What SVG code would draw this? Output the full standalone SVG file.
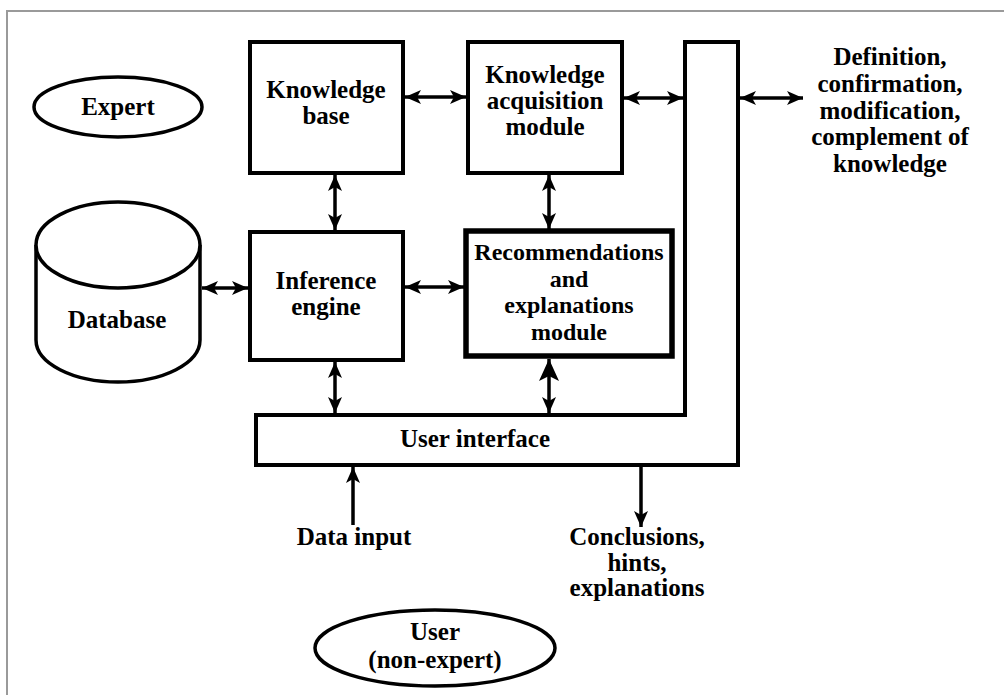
<svg xmlns="http://www.w3.org/2000/svg" width="1004" height="695" viewBox="0 0 1004 695">
<defs>
<style>
.frame{fill:none;stroke:#9a9a9a;stroke-width:2}
.box{fill:#fff;stroke:#000;stroke-width:4}
.thick{fill:#fff;stroke:#000;stroke-width:5.5}
.shape{fill:#fff;stroke:#000;stroke-width:3.5}
.lbl{font-family:"Liberation Serif","Times New Roman",serif;font-weight:bold;font-size:25px;text-anchor:middle;fill:#000}
.sm{font-size:24px}
.conn{stroke:#000;stroke-width:3.5;fill:none}
</style>
<marker id="ah" markerUnits="userSpaceOnUse" markerWidth="16" markerHeight="16" refX="16" refY="8" orient="auto-start-reverse">
<path d="M0,1 L16,8 L0,15 L4,8 Z" fill="#000"/>
</marker>
<marker id="ahBig" markerUnits="userSpaceOnUse" markerWidth="22" markerHeight="22" refX="22" refY="11" orient="auto-start-reverse">
<path d="M0,1 L22,11 L0,21 L5,11 Z" fill="#000"/>
</marker>
</defs>
<rect class="frame" x="7" y="11" width="1010" height="700"/>

<g id="expert">
<ellipse class="shape" cx="118" cy="107" rx="84" ry="30"/>
<text class="lbl" x="118" y="115">Expert</text>
</g>

<g id="knowledge-base">
<rect class="box" x="250" y="42" width="153" height="131"/>
<text class="lbl" x="326" y="98">Knowledge</text>
<text class="lbl" x="326" y="124">base</text>
</g>

<g id="knowledge-acquisition">
<rect class="box" x="468" y="42" width="154" height="131"/>
<text class="lbl" x="545" y="83">Knowledge</text>
<text class="lbl" x="545" y="109">acquisition</text>
<text class="lbl" x="545" y="135">module</text>
</g>

<g id="database">
<path class="shape" d="M36,245 L36,340 A82,42 0 0 0 200,340 L200,245"/>
<ellipse class="shape" cx="118" cy="245" rx="82" ry="43"/>
<text class="lbl" x="117" y="328">Database</text>
</g>

<g id="inference-engine">
<rect class="box" x="250" y="232" width="153" height="128"/>
<text class="lbl" x="326" y="289">Inference</text>
<text class="lbl" x="326" y="315">engine</text>
</g>

<g id="recommendations">
<rect class="thick" x="466" y="231" width="206" height="125"/>
<text class="lbl sm" x="569" y="260">Recommendations</text>
<text class="lbl sm" x="569" y="287">and</text>
<text class="lbl sm" x="569" y="313">explanations</text>
<text class="lbl sm" x="569" y="340">module</text>
</g>

<g id="user-interface">
<path class="box" d="M256,415 L685,415 L685,42 L738,42 L738,465 L256,465 Z"/>
<text class="lbl" x="475" y="447">User interface</text>
</g>

<g id="outside-labels">
<text class="lbl" x="890" y="65">Definition,</text>
<text class="lbl" x="890" y="92">confirmation,</text>
<text class="lbl" x="890" y="119">modification,</text>
<text class="lbl" x="890" y="145">complement of</text>
<text class="lbl" x="890" y="172">knowledge</text>
<text class="lbl" x="354" y="545">Data input</text>
<text class="lbl" x="637" y="545">Conclusions,</text>
<text class="lbl" x="637" y="571">hints,</text>
<text class="lbl" x="637" y="596">explanations</text>
</g>

<g id="user">
<ellipse class="shape" cx="435" cy="648" rx="120" ry="38"/>
<text class="lbl" x="435" y="640">User</text>
<text class="lbl" x="435" y="668">(non-expert)</text>
</g>

<g id="connectors">
<line class="conn" x1="405" y1="97" x2="466" y2="97" marker-start="url(#ah)" marker-end="url(#ah)"/>
<line class="conn" x1="624" y1="98" x2="683" y2="98" marker-start="url(#ah)" marker-end="url(#ah)"/>
<line class="conn" x1="740" y1="98" x2="803" y2="98" marker-start="url(#ah)" marker-end="url(#ah)"/>
<line class="conn" x1="335" y1="175" x2="335" y2="230" marker-start="url(#ah)" marker-end="url(#ah)"/>
<line class="conn" x1="549" y1="175" x2="549" y2="229" marker-start="url(#ah)" marker-end="url(#ah)"/>
<line class="conn" x1="202" y1="288" x2="248" y2="288" marker-start="url(#ah)" marker-end="url(#ah)"/>
<line class="conn" x1="405" y1="287" x2="464" y2="287" marker-start="url(#ah)" marker-end="url(#ah)"/>
<line class="conn" x1="335" y1="362" x2="335" y2="413" marker-start="url(#ah)" marker-end="url(#ah)"/>
<line class="conn" x1="549" y1="359" x2="549" y2="413" marker-start="url(#ahBig)" marker-end="url(#ah)"/>
<line class="conn" x1="353" y1="525" x2="353" y2="467" marker-end="url(#ah)"/>
<line class="conn" x1="641" y1="467" x2="641" y2="527" marker-end="url(#ah)"/>
</g>
</svg>
